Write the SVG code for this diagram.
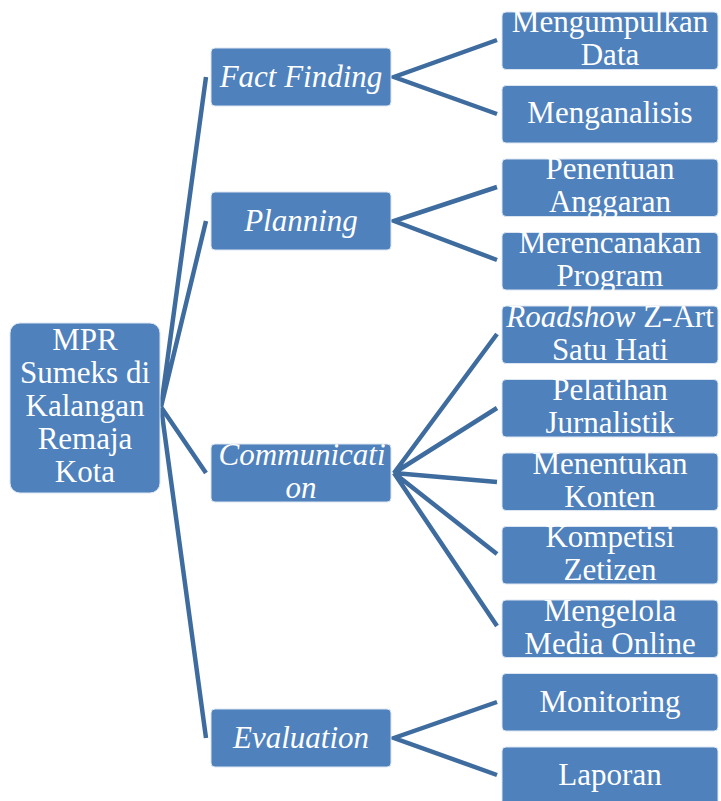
<svg xmlns="http://www.w3.org/2000/svg" width="721" height="801" viewBox="0 0 721 801">
<style>
.box{fill:#4f81bd;stroke:#dce6f2;stroke-width:1}
.t{font-family:"Liberation Serif","Times New Roman",serif;font-size:31px;fill:#ffffff;text-anchor:middle}
.i{font-style:italic}
.c{stroke:#3f6c9f;stroke-width:4.5;fill:none;stroke-linecap:butt}
</style>
<rect width="721" height="801" fill="#ffffff"/>
<g id="connectors">
<path class="c" d="M161,407 L206,77 M161,407 L206,221 M161,407 L206,473 M161,407 L206,738"/>
<path class="c" d="M497,40 L394,77 L497,114 M497,187 L394,221 L497,260 M497,334 L394,473 L497,408 M394,473 L497,482 M394,473 L497,554 M394,473 L497,626 M497,702 L394,738 L497,775"/>
</g>
<g id="root">
<rect class="box" x="10" y="323" width="150" height="170" rx="10"/>
<text class="t" x="85" y="350">MPR</text>
<text class="t" x="85" y="383">Sumeks di</text>
<text class="t" x="85" y="416">Kalangan</text>
<text class="t" x="85" y="449">Remaja</text>
<text class="t" x="85" y="482">Kota</text>
</g>
<g id="fact-finding">
<rect class="box" x="211" y="48" width="180" height="58" rx="4"/>
<text class="t i" x="301" y="87">Fact Finding</text>
</g>
<g id="planning">
<rect class="box" x="211" y="192" width="180" height="58" rx="4"/>
<text class="t i" x="301" y="231">Planning</text>
</g>
<g id="communication">
<rect class="box" x="211" y="444" width="180" height="58" rx="4"/>
<text class="t i" x="302" y="465">Communicati</text>
<text class="t i" x="301" y="498">on</text>
</g>
<g id="evaluation">
<rect class="box" x="211" y="709" width="180" height="58" rx="4"/>
<text class="t i" x="301" y="748">Evaluation</text>
</g>
<g id="mengumpulkan-data">
<rect class="box" x="502" y="12" width="216" height="57.5" rx="4"/>
<text class="t" x="610" y="32">Mengumpulkan</text>
<text class="t" x="610" y="65">Data</text>
</g>
<g id="menganalisis">
<rect class="box" x="502" y="85.5" width="216" height="57.5" rx="4"/>
<text class="t" x="610" y="123">Menganalisis</text>
</g>
<g id="penentuan-anggaran">
<rect class="box" x="502" y="159" width="216" height="57.5" rx="4"/>
<text class="t" x="610" y="179">Penentuan</text>
<text class="t" x="610" y="212">Anggaran</text>
</g>
<g id="merencanakan-program">
<rect class="box" x="502" y="232.5" width="216" height="57.5" rx="4"/>
<text class="t" x="610" y="253">Merencanakan</text>
<text class="t" x="610" y="286">Program</text>
</g>
<g id="roadshow">
<rect class="box" x="502" y="306" width="216" height="57.5" rx="4"/>
<text class="t" x="610" y="327"><tspan font-style="italic">Roadshow</tspan> Z-Art</text>
<text class="t" x="610" y="360">Satu Hati</text>
</g>
<g id="pelatihan-jurnalistik">
<rect class="box" x="502" y="379.5" width="216" height="57.5" rx="4"/>
<text class="t" x="610" y="400">Pelatihan</text>
<text class="t" x="610" y="433">Jurnalistik</text>
</g>
<g id="menentukan-konten">
<rect class="box" x="502" y="453" width="216" height="57.5" rx="4"/>
<text class="t" x="610" y="474">Menentukan</text>
<text class="t" x="610" y="507">Konten</text>
</g>
<g id="kompetisi-zetizen">
<rect class="box" x="502" y="526.5" width="216" height="57.5" rx="4"/>
<text class="t" x="610" y="547">Kompetisi</text>
<text class="t" x="610" y="580">Zetizen</text>
</g>
<g id="mengelola-media-online">
<rect class="box" x="502" y="600" width="216" height="57.5" rx="4"/>
<text class="t" x="610" y="621">Mengelola</text>
<text class="t" x="610" y="654">Media Online</text>
</g>
<g id="monitoring">
<rect class="box" x="502" y="673.5" width="216" height="57.5" rx="4"/>
<text class="t" x="610" y="712">Monitoring</text>
</g>
<g id="laporan">
<rect class="box" x="502" y="747" width="216" height="57.5" rx="4"/>
<text class="t" x="610" y="785">Laporan</text>
</g>
</svg>
